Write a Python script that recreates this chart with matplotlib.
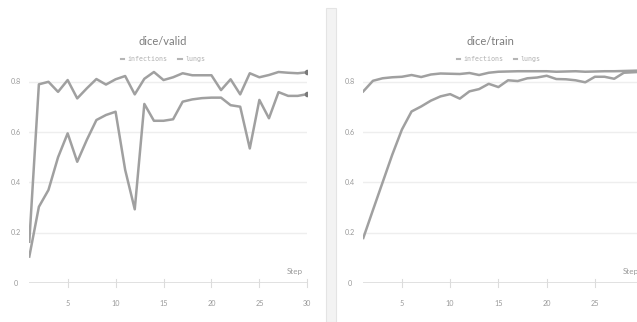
import matplotlib
matplotlib.use("Agg")
import matplotlib.pyplot as plt
from matplotlib.lines import Line2D
from matplotlib.patches import Rectangle

steps = list(range(1, 31))

valid_lungs = [0.164, 0.79, 0.80, 0.76, 0.807, 0.734, 0.774, 0.811, 0.789, 0.81,
               0.823, 0.75, 0.812, 0.839, 0.807, 0.818, 0.834, 0.826, 0.826, 0.826,
               0.767, 0.81, 0.75, 0.834, 0.818, 0.827, 0.839, 0.836, 0.834, 0.838]
valid_infections = [0.105, 0.303, 0.37, 0.50, 0.595, 0.482, 0.569, 0.648, 0.668, 0.681,
                    0.45, 0.293, 0.712, 0.645, 0.645, 0.651, 0.721, 0.730, 0.735, 0.737,
                    0.737, 0.707, 0.701, 0.535, 0.728, 0.655, 0.759, 0.744, 0.744, 0.751]

train_lungs = [0.762, 0.804, 0.814, 0.818, 0.82, 0.827, 0.819, 0.829, 0.833, 0.832,
               0.831, 0.835, 0.827, 0.836, 0.840, 0.841, 0.842, 0.842, 0.842, 0.842,
               0.840, 0.841, 0.842, 0.840, 0.841, 0.842, 0.842, 0.843, 0.844, 0.845]
train_infections = [0.179, 0.29, 0.40, 0.51, 0.61, 0.682, 0.702, 0.725, 0.742, 0.751,
                    0.733, 0.762, 0.771, 0.792, 0.779, 0.806, 0.803, 0.814, 0.817, 0.824,
                    0.811, 0.810, 0.806, 0.798, 0.820, 0.820, 0.812, 0.836, 0.838, 0.840]

x_ticks = [5, 10, 15, 20, 25, 30]
y_ticks = [0, 0.2, 0.4, 0.6, 0.8]
y_tick_labels = ["0", "0.2", "0.4", "0.6", "0.8"]
series_names = ["infections", "lungs"]

W, H = 637, 322
fig = plt.figure(figsize=(W / 100, H / 100), dpi=100)
fig.patch.set_facecolor("white")

LINE = "#a0a0a0"
TEXT = "#9a9a9a"
GRID = "#eeeeee"
AXIS = "#dcdcdc"

label_font = ["Lato", "DejaVu Sans"]


def panel(rect, title, infections, lungs, title_x, legend_x, end_marker):
    ax = fig.add_axes(rect)
    ax.set_xlim(1, 30)
    ax.set_ylim(0, 0.9)
    for s in ax.spines.values():
        s.set_visible(False)
    ax.tick_params(left=False, bottom=False, labelleft=False, labelbottom=False)
    ax.patch.set_alpha(0)
    for y in y_ticks[1:]:
        ax.axhline(y, color=GRID, lw=1.0, zorder=0)
    ax.axhline(0, color=AXIS, lw=1.2, zorder=0)
    for y, lab in zip(y_ticks, y_tick_labels):
        ax.annotate(lab, xy=(0, y), xycoords=("axes fraction", "data"),
                    xytext=(-10, 0), textcoords="offset points",
                    ha="center", va="center", fontsize=5.2, color=TEXT,
                    family=label_font, annotation_clip=False)
    for xt in x_ticks:
        ax.plot([xt, xt], [-0.016, 0.016], color=AXIS, lw=0.8, clip_on=False)
        ax.annotate(str(xt), xy=(xt, 0), xytext=(0, -14.5), textcoords="offset points",
                    ha="center", va="center", fontsize=5.2, color=TEXT,
                    family=label_font, annotation_clip=False)
    ax.text(28.7, 0.045, "Step", ha="center", va="center", fontsize=5.8,
            color=TEXT, family=label_font)
    ax.plot(steps, lungs, color=LINE, lw=1.8, solid_joinstyle="round", zorder=3)
    ax.plot(steps, infections, color=LINE, lw=1.8, solid_joinstyle="round", zorder=3)
    if end_marker:
        ax.plot([steps[-1]], [lungs[-1]], "o", color="#7a7a7a", ms=3, zorder=4)
        ax.plot([steps[-1]], [infections[-1]], "o", color="#7a7a7a", ms=3, zorder=4)
    ax.text(title_x, 1.065, title, transform=ax.transAxes, ha="center",
            va="center", fontsize=8, color="#7c7c7c", family=label_font)
    handles = [Line2D([], [], color="#b5b5b5", lw=1.5) for _ in series_names]
    leg = ax.legend(handles, series_names, loc="center",
                    bbox_to_anchor=(legend_x, 0.99), ncol=2, frameon=False,
                    handlelength=0.5, handletextpad=0.5, columnspacing=1.6,
                    prop={"family": "DejaVu Sans Mono", "size": 4.8})
    for t in leg.get_texts():
        t.set_color("#b0b0b0")
    return ax


bottom = (H - 283.0) / H
height = (0.9 * 251.5) / H

panel([29.3 / W, bottom, (307.3 - 29.3) / W, height], "dice/valid",
      valid_infections, valid_lungs, 0.481, 0.481, True)
panel([363.3 / W, bottom, (9.65 * 29) / W, height], "dice/train",
      train_infections, train_lungs, 0.456, 0.484, False)

# vertical separator between the two panels
fig.patches.append(Rectangle((326 / W, 0), 10 / W, (H - 8) / H,
                             transform=fig.transFigure, facecolor="#f3f3f3",
                             edgecolor="#e4e4e4", lw=0.8, zorder=0))

fig.savefig("out.png", dpi=100, facecolor="white")
